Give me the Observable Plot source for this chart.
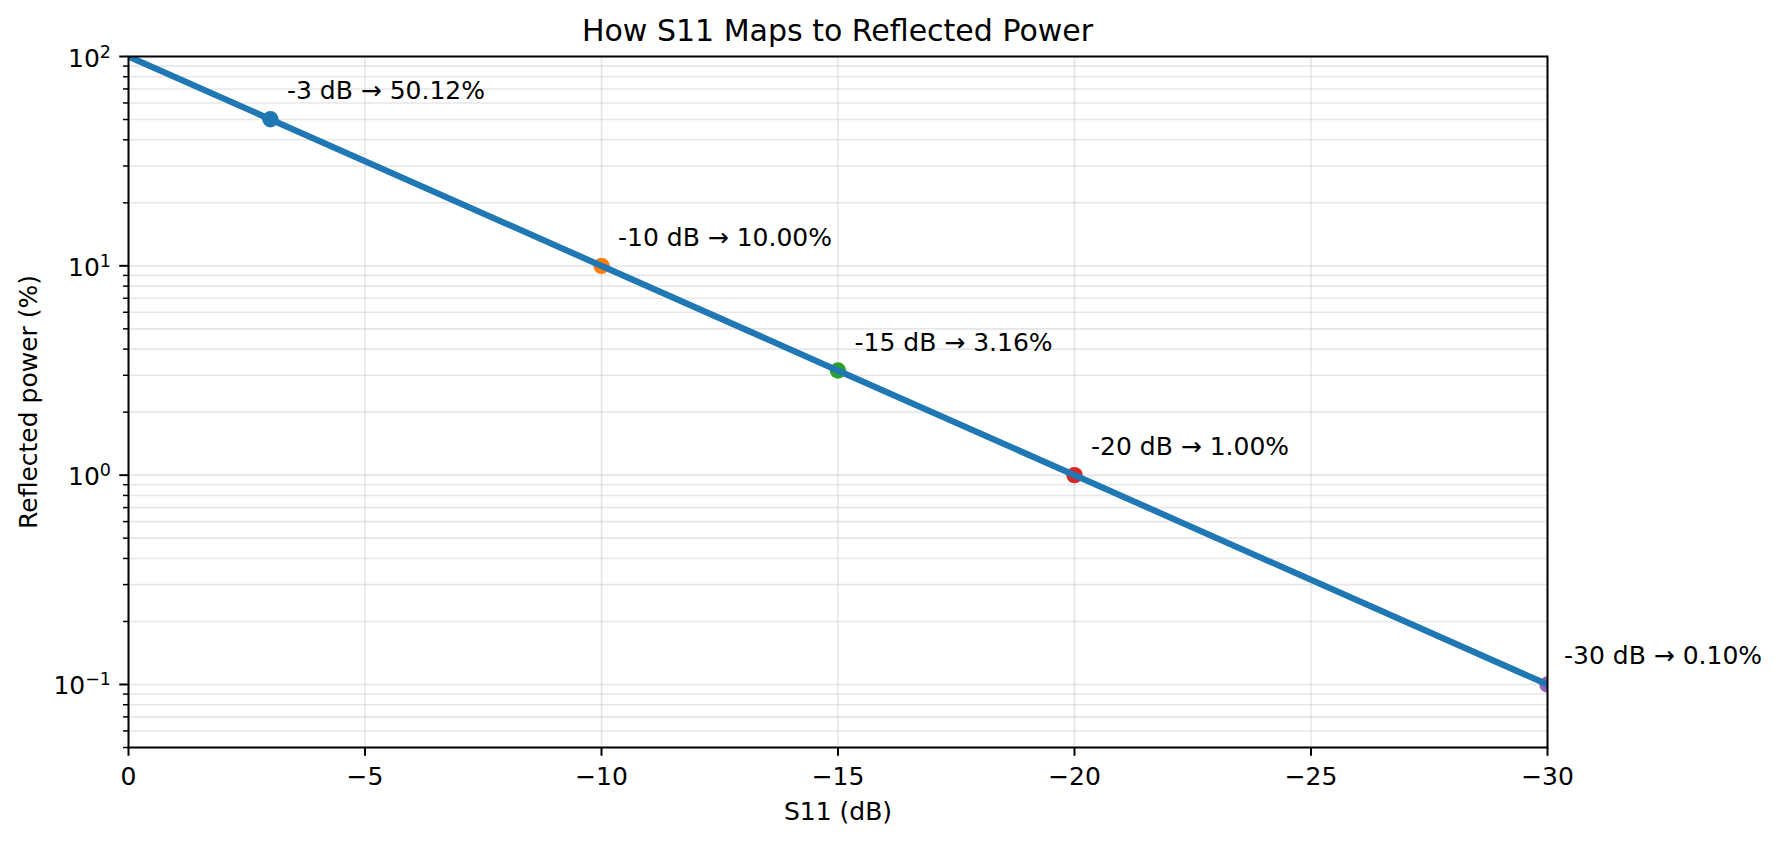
<!DOCTYPE html>
<html>
<head>
<meta charset="utf-8">
<script src="https://cdn.jsdelivr.net/npm/d3@7"></script>
<script src="https://cdn.jsdelivr.net/npm/@observablehq/plot@0.6"></script>
<style>
html, body { margin: 0; padding: 0; background: #ffffff; }
#wrap { width: 1780px; height: 841px; overflow: hidden; font-family: "DejaVu Sans", sans-serif; background: #fff; }
#title { position: relative; width: 1780px; height: 40px; }
#title span { position: absolute; left: 837.5px; top: 15.6px; transform: translateX(-50%);
  font-size: 30px; line-height: 30px; white-space: nowrap; color: #000; }
#chart svg { display: block; }
</style>
</head>
<body>
<div id="wrap">
  <div id="title"><span>How S11 Maps to Reflected Power</span></div>
  <div id="chart"></div>
</div>
<script>
// ---- data ----
const pointS11 = [-3, -10, -15, -20, -30];
const pointPower = [50.12, 10.00, 3.16, 1.00, 0.10];
const pointLabels = ["-3 dB → 50.12%", "-10 dB → 10.00%", "-15 dB → 3.16%", "-20 dB → 1.00%", "-30 dB → 0.10%"];
const pointColors = ["#1f77b4", "#ff7f0e", "#2ca02c", "#d62728", "#9467bd"];

const lineS11 = [0, -3, -10, -15, -20, -30];
const linePower = [100, 50.12, 10.00, 3.16, 1.00, 0.10];

const xTicks = [0, -5, -10, -15, -20, -25, -30];
const xTickLabels = ["0", "−5", "−10", "−15", "−20", "−25", "−30"];
const yMajorTicks = [0.1, 1, 10, 100];
const yMajorExponents = ["−1", "0", "1", "2"];
const yMinorTicks = [0.05, 0.06, 0.07, 0.08, 0.09,
  0.2, 0.3, 0.4, 0.5, 0.6, 0.7, 0.8, 0.9,
  2, 3, 4, 5, 6, 7, 8, 9,
  20, 30, 40, 50, 60, 70, 80, 90];

const xLabel = "S11 (dB)";
const yLabel = "Reflected power (%)";

// ---- tables ----
const points = pointS11.map((s, i) => ({s11: s, power: pointPower[i], label: pointLabels[i], color: pointColors[i]}));
const lineData = lineS11.map((s, i) => ({s11: s, power: linePower[i]}));
const yMajor = yMajorTicks.map((v, i) => ({v, exp: yMajorExponents[i]}));
const yGridAll = [...yMajorTicks, ...yMinorTicks];

const FS = 25;          // 10pt
const EXP_FS = 17.5;    // superscript size
const TICK = 8.75, PAD = 8.75;
const expW = (s) => (s.startsWith("−") ? 0.838 + 0.636 * (s.length - 1) : 0.636 * s.length) * EXP_FS;

const baseMarks = [];
for (const group of [yMajor.filter(d => d.exp.startsWith("−")), yMajor.filter(d => !d.exp.startsWith("−"))]) {
  if (!group.length) continue;
  const w = expW(group[0].exp);
  baseMarks.push(Plot.text(group, {
    y: "v", text: () => "10", frameAnchor: "left", textAnchor: "end", lineAnchor: "bottom",
    dx: -(TICK + PAD) - w, dy: 10, fontSize: FS, fill: "#000"
  }));
}

const chart = Plot.plot({
  width: 1780,
  height: 801,
  marginTop: 16,
  marginBottom: 94,
  marginLeft: 128,
  marginRight: 233,
  style: {fontFamily: "DejaVu Sans", fontSize: FS + "px", background: "#fff", color: "#000", overflow: "visible"},
  x: {type: "linear", domain: [0, -30]},
  y: {type: "log", domain: [0.05, 100]},
  marks: [
    Plot.gridY(yGridAll, {stroke: "#b0b0b0", strokeOpacity: 0.3, strokeWidth: 1.6}),
    Plot.gridX(xTicks, {stroke: "#b0b0b0", strokeOpacity: 0.3, strokeWidth: 1.6}),
    Plot.dot(points, {x: "s11", y: "power", r: 8.2, fill: "color", stroke: null, clip: true}),
    Plot.line(lineData, {x: "s11", y: "power", stroke: "#1f77b4", strokeWidth: 6.25, clip: true}),
    Plot.text(points, {x: "s11", y: "power", text: "label", dx: 16.5, dy: -20, textAnchor: "start", lineAnchor: "bottom", fontSize: FS, fill: "#000"}),
    Plot.axisX({ticks: xTicks, tickSize: TICK, tickPadding: 10.5, strokeWidth: 2,
      tickFormat: (d) => xTickLabels[xTicks.indexOf(d)], fontSize: FS, label: null}),
    Plot.axisY({ticks: yMajorTicks, tickSize: TICK, strokeWidth: 2, tickFormat: () => "", label: null}),
    Plot.axisY({ticks: yMinorTicks, tickSize: 5, strokeWidth: 1.5, tickFormat: () => "", label: null}),
    ...baseMarks,
    Plot.text(yMajor, {y: "v", text: "exp", frameAnchor: "left", textAnchor: "end", lineAnchor: "bottom",
      dx: -(TICK + PAD), dy: 1, fontSize: EXP_FS, fill: "#000"}),
    Plot.text([xLabel], {text: d => d, frameAnchor: "bottom", lineAnchor: "bottom", dy: 72, fontSize: FS, fill: "#000"}),
    Plot.text([yLabel], {text: d => d, frameAnchor: "left", rotate: -90, textAnchor: "middle", lineAnchor: "bottom", dx: -92, fontSize: FS, fill: "#000"}),
    Plot.frame({stroke: "#000", strokeWidth: 2})
  ]
});
document.getElementById("chart").appendChild(chart);
</script>
</body>
</html>
